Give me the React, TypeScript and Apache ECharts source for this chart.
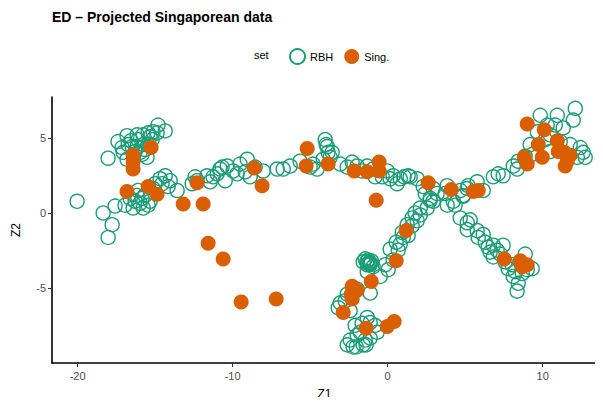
import React, { useEffect, useRef } from "react";
import * as echarts from "echarts";

const titleText = "ED – Projected Singaporean data";
const legendTitle = "set";
const seriesNames = ["RBH", "Sing."];
const xTicks = [-20, -10, 0, 10];
const yTicks = [-5, 0, 5];

const rbh: number[][] = [
  [-18.03, 3.65], [-17.39, 4.76], [-16.81, 5.15], [-16.55, 4.82], [-16.16, 5.21], [-15.77, 5.21],
  [-15.45, 5.34], [-15.13, 5.41], [-14.81, 5.86], [-14.35, 5.47], [-17.06, 4.04], [-16.81, 3.58],
  [-15.84, 3.91], [-15.52, 3.71], [-16.16, 4.43], [-16.48, 4.43], [-15.77, 4.56], [-15.32, 5.08],
  [-14.87, 5.34], [-17.13, 4.36], [-15.97, 4.04], [-16.29, 4.10], [-15.65, 4.23], [-15.19, 4.89],
  [-16.74, 4.56], [-16.10, 4.89], [-15.45, 4.56],
  [-20.03, 0.78], [-18.35, 0.0], [-17.77, -0.78], [-18.03, -1.63], [-17.58, 0.46], [-16.94, 0.52],
  [-16.61, 0.98], [-16.16, 1.17], [-15.97, 0.65], [-15.77, 0.33], [-15.65, 1.17], [-15.13, 1.63],
  [-14.68, 2.28], [-14.35, 2.48], [-14.03, 2.15], [-13.58, 1.50], [-14.16, 1.76], [-16.42, 0.33],
  [-15.45, 0.52], [-16.29, 0.78], [-16.10, 1.50], [-15.84, 0.98], [-15.32, 0.78], [-15.00, 1.95],
  [-14.55, 1.95], [-12.61, 1.95], [-12.29, 2.15], [-11.65, 2.48], [-11.26, 2.41], [-10.81, 2.93],
  [-10.35, 3.13], [-9.97, 2.80], [-10.48, 2.15], [-11.0, 2.61], [-10.68, 3.06], [-11.45, 2.08],
  [-12.42, 2.41],
  [-9.71, 2.61], [-9.06, 3.58], [-9.19, 2.74], [-8.87, 2.41], [-9.52, 3.26], [-8.55, 3.06],
  [-8.03, 2.80], [-7.13, 2.93], [-6.74, 2.93], [-6.29, 3.13], [-5.65, 3.45], [-4.81, 3.26],
  [-4.55, 2.93], [-4.03, 4.89], [-3.90, 4.43], [-3.84, 4.04], [-4.16, 3.58], [-3.58, 4.04],
  [-3.97, 4.56], [-3.71, 3.71], [-5.00, 3.06], [-2.61, 3.06], [-2.29, 3.39], [-1.97, 3.13],
  [-1.32, 3.13], [-0.94, 2.93], [-0.03, 2.80], [0.35, 2.48], [0.61, 1.95], [-0.81, 2.41],
  [-0.35, 2.41], [-1.65, 2.80], [-3.06, 3.26], [0.81, 2.28], [1.06, 2.41], [1.45, 2.41], [0.16, 2.28],
  [1.32, 2.48], [1.90, 2.28], [2.29, 1.76], [2.74, 0.98], [2.94, 0.78], [2.55, 0.33], [2.10, -0.13],
  [1.90, -0.52], [1.58, -0.85], [1.00, -1.63], [0.81, -2.08], [0.68, -2.48], [0.16, -2.41],
  [0.35, -3.13], [0.03, -3.78], [-1.13, -3.39], [-1.32, -3.45], [-0.94, -3.58], [-1.26, -3.13],
  [-1.58, -3.26], [-1.20, -3.30], [-1.05, -3.20], [-1.35, -3.25], [-1.15, -3.45], [-1.10, -3.35],
  [-1.13, -5.34], [-1.97, -5.08], [-2.61, -5.41], [-3.06, -5.99], [-3.19, -6.32],
  [-1.32, -6.97], [-1.13, -7.30], [-1.77, -7.95], [-2.61, -8.79], [-2.23, -8.93], [-1.58, -8.79],
  [-1.13, -8.34], [-0.68, -7.95], [-1.97, -8.14], [1.26, -0.78], [0.94, -1.30], [1.58, -0.33],
  [2.10, 0.33], [2.74, 0.85], [3.19, 1.30], [2.94, 1.63], [2.42, 1.30], [1.77, 0.0], [1.32, -1.50],
  [0.55, -1.95], [-0.16, -3.45], [-0.48, -4.23], [-1.32, -3.91], [-1.45, -3.06], [-2.74, -5.86],
  [-2.42, -6.51], [-2.10, -7.49], [-1.45, -8.47], [-0.81, -7.49], [-1.65, -7.36], [-2.42, -8.47],
  [-1.39, -8.79], [-2.03, -8.93],
  [3.84, 1.82], [4.35, 0.52], [4.68, -0.33], [5.13, -0.65], [4.87, 1.17], [5.19, 1.82], [4.23, 0.78],
  [3.84, 0.52], [5.32, -0.46], [5.13, -1.11], [5.77, -1.17], [5.84, -1.63], [6.16, -1.43],
  [6.29, -1.95], [6.48, -2.28], [6.81, -2.15], [7.06, -2.48], [7.45, -2.15], [6.81, -2.93],
  [7.26, -2.74], [7.77, -3.71], [8.23, -3.91], [8.68, -4.04], [9.00, -3.78], [9.32, -3.71],
  [8.42, -4.69], [8.35, -5.21], [8.10, -4.23], [8.87, -2.74], [7.58, -3.26], [8.03, -3.45],
  [6.61, -2.61],
  [12.10, 6.97], [9.84, 6.51], [10.94, 6.51], [11.97, 6.19], [11.32, 5.67], [10.29, 5.86],
  [9.65, 5.41], [10.48, 5.21], [11.13, 4.76], [12.42, 4.36], [12.61, 4.04], [12.74, 3.71],
  [12.23, 3.71], [10.48, 4.10], [9.32, 3.91], [8.87, 3.78], [8.42, 3.45], [8.10, 3.13], [8.35, 2.93],
  [7.13, 2.61], [6.81, 2.41], [7.45, 2.48], [5.77, 2.08], [5.13, 1.63], [4.68, 1.50], [4.87, 1.11],
  [3.71, 1.30], [6.16, 1.50], [10.81, 5.86], [10.16, 4.89], [11.77, 4.56], [9.19, 4.56],
];

const sing: number[][] = [
  [-16.42, 3.84], [-16.42, 3.39], [-16.42, 2.93], [-15.26, 4.36], [-16.81, 1.43], [-15.45, 1.76],
  [-14.87, 1.24], [-13.19, 0.59], [-11.90, 0.59], [-12.29, 2.02], [-11.58, -2.02], [-10.61, -3.06],
  [-9.45, -5.93], [-7.19, -5.73], [-8.61, 3.00], [-8.10, 1.82], [-5.19, 4.30], [-5.26, 3.13],
  [-3.84, 3.26], [-2.16, 2.80], [-1.32, 2.74], [-0.55, 3.39], [-0.55, 2.80], [-0.74, 0.85],
  [2.61, 2.02], [4.10, 1.56], [1.19, -1.17], [0.55, -3.19], [-1.06, -4.56], [-2.29, -4.89],
  [-1.97, -5.15], [-2.35, -5.41], [-2.29, -5.73], [-2.87, -6.64], [-1.39, -7.69], [-0.03, -7.56],
  [0.42, -7.23], [9.00, 5.93], [10.10, 5.54], [9.71, 4.56], [10.94, 4.82], [9.97, 3.71],
  [9.00, 3.26], [8.81, 3.71], [11.39, 4.04], [11.77, 3.84], [11.58, 3.45], [11.45, 3.13],
  [11.00, 4.10], [5.52, 1.43], [5.84, 1.50], [7.52, -3.06], [8.55, -3.19], [9.00, -3.45],
  [8.68, -3.58],
];

const GREEN = "#1b9e77";
const ORANGE = "#d95f02";
const FONT = "Liberation Sans, Arial, sans-serif";

export default function App() {
  const ref = useRef<HTMLDivElement>(null);
  useEffect(() => {
    if (!ref.current) return;
    const chart = echarts.init(ref.current, null, { renderer: "svg" });
    const axisCommon = {
      axisLine: { show: true, onZero: false, lineStyle: { color: "#000", width: 1.6 } },
      splitLine: { show: false },
      nameTextStyle: { color: "#000", fontSize: 12, fontFamily: FONT },
    };
    chart.setOption({
      animation: false,
      backgroundColor: "#fff",
      textStyle: { fontFamily: FONT },
      title: {
        text: titleText,
        left: 47,
        top: 5,
        textStyle: { fontSize: 14, fontWeight: "bold", color: "#000", fontFamily: FONT },
      },
      graphic: [
        {
          type: "text",
          left: 254,
          top: 49,
          style: { text: legendTitle, fontSize: 11, fill: "#000", fontFamily: FONT },
        },
      ],
      legend: {
        left: 284,
        top: 43,
        itemWidth: 15,
        itemHeight: 15,
        itemGap: 11,
        icon: "circle",
        textStyle: { fontSize: 11, color: "#000", fontFamily: FONT },
        data: seriesNames,
      },
      grid: { left: 52, right: 6, top: 97, bottom: 30 },
      xAxis: {
        type: "value",
        min: -21.65,
        max: 13.5,
        name: "Z1",
        nameLocation: "middle",
        nameGap: 25,
        ...axisCommon,
        axisTick: { show: true, length: 4, lineStyle: { color: "#333", width: 1.1 }, customValues: xTicks },
        axisLabel: { color: "#4d4d4d", fontSize: 11, margin: 7, customValues: xTicks },
      },
      yAxis: {
        type: "value",
        min: -10.0,
        max: 7.73,
        name: "Z2",
        nameLocation: "middle",
        nameGap: 30,
        ...axisCommon,
        axisTick: { show: true, length: 4, lineStyle: { color: "#333", width: 1.1 }, customValues: yTicks },
        axisLabel: { color: "#4d4d4d", fontSize: 11, margin: 6, customValues: yTicks },
      },
      series: [
        {
          name: seriesNames[0],
          type: "scatter",
          symbol: "circle",
          symbolSize: 14,
          data: rbh,
          itemStyle: { color: "rgba(255,255,255,0)", borderColor: GREEN, borderWidth: 1.4, opacity: 1 },
        },
        {
          name: seriesNames[1],
          type: "scatter",
          symbol: "circle",
          symbolSize: 15,
          data: sing,
          itemStyle: { color: ORANGE, borderWidth: 0, opacity: 1 },
        },
      ],
    });
    return () => chart.dispose();
  }, []);
  return <div ref={ref} style={{ width: 603, height: 405, margin: -8 }} />;
}
